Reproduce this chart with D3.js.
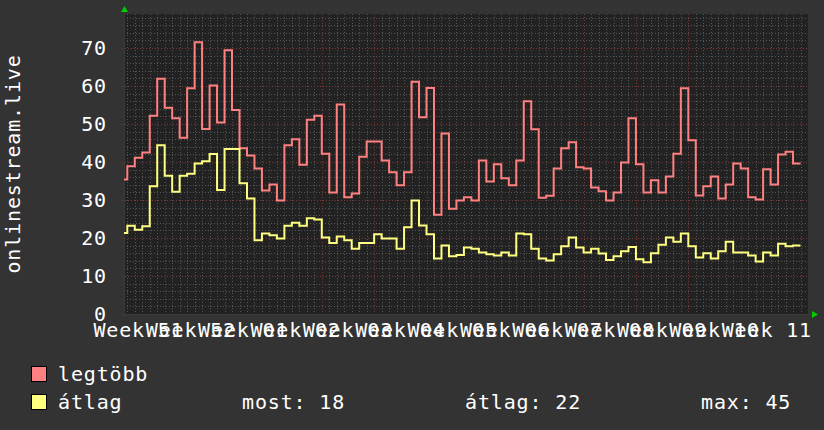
<!DOCTYPE html>
<html lang="hu">
<head>
  <meta charset="UTF-8">
  <title>onlinestream.live</title>
  <script src="https://d3js.org/d3.v7.min.js"></script>
  <style>
    body { margin: 0; background: #333; }
    text {
      font-family: "DejaVu Sans Mono", monospace;
      font-size: 20px;
      letter-spacing: 0.85px;
      fill: #fff;
    }
  </style>
</head>
<body>
  <svg width="824" height="430"></svg>

  <script>
    // daily values, first day is 2012-12-18
    var startDay = new Date(2012, 11, 18);

    var maxValues = [
      35.4, 38.9, 41.1, 42.5, 52.2, 61.9, 54.3, 51.5, 46.4, 59.4,
      71.5, 48.7, 60.1, 50.4, 69.4, 53.7, 43.6, 41.7, 38.3, 32.5,
      34.1, 29.9, 44.4, 46.0, 39.3, 51.1, 52.2, 42.2, 32.0, 55.1,
      30.7, 31.7, 41.4, 45.4, 45.4, 40.4, 37.3, 33.9, 37.3, 61.1,
      51.8, 59.5, 26.1, 47.5, 27.7, 29.9, 30.7, 29.9, 40.4, 34.9,
      39.4, 35.7, 33.9, 40.4, 56.0, 48.6, 30.6, 31.1, 38.3, 43.6,
      45.2, 38.6, 38.3, 33.3, 32.3, 29.9, 32.0, 39.9, 51.5, 39.4,
      32.0, 35.2, 32.0, 36.2, 42.2, 59.4, 45.7, 31.2, 33.6, 36.2,
      30.4, 34.1, 39.6, 38.3, 30.7, 30.1, 38.1, 34.1, 42.0, 42.7,
      39.6
    ];

    var avgValues = [
      21.3, 23.2, 22.2, 23.1, 33.6, 44.4, 36.4, 32.2, 36.4, 36.9,
      39.6, 40.2, 42.1, 32.6, 43.4, 43.4, 34.4, 30.4, 19.4, 21.2,
      20.7, 19.9, 23.2, 24.0, 23.2, 25.2, 24.9, 20.1, 18.7, 20.4,
      19.4, 17.2, 18.7, 18.7, 21.0, 19.9, 19.9, 17.2, 22.8, 29.9,
      23.3, 21.0, 14.6, 18.0, 15.2, 15.5, 17.5, 17.2, 16.2, 15.7,
      15.4, 16.2, 15.4, 21.2, 21.0, 17.2, 14.6, 14.1, 15.7, 17.8,
      20.1, 17.5, 16.2, 17.2, 15.9, 14.2, 15.2, 16.5, 17.6, 14.4,
      13.6, 16.0, 18.2, 20.1, 19.0, 21.2, 17.8, 14.9, 16.0, 14.6,
      16.5, 19.0, 16.2, 16.2, 15.4, 13.8, 16.2, 15.4, 18.5, 17.8,
      18.0
    ];

    var yTicks = [0, 10, 20, 30, 40, 50, 60, 70];
    var seriesNames = ["legtöbb", "átlag"];
    var seriesColors = ["#ff8080", "#ffff80"];
    var legendStats = [["most", 18], ["átlag", 22], ["max", 45]];
    var axisTitle = "onlinestream.live";

    var svg = d3.select("svg");
    var pLeft = 124, pRight = 808, pTop = 14, pBottom = 314;

    svg.append("rect").attr("width", 824).attr("height", 430).attr("fill", "#333");

    var x = d3.scaleTime()
        .domain([new Date(2012, 11, 18, 13, 25), new Date(2013, 2, 20)])
        .range([pLeft, pRight]);
    var y = d3.scaleLinear()
        .domain([0, 300 / 3.8])
        .range([pBottom, pTop]);

    svg.append("rect")
        .attr("x", pLeft).attr("y", pTop)
        .attr("width", pRight - pLeft).attr("height", pBottom - pTop)
        .attr("fill", "#222");

    svg.append("clipPath").attr("id", "plot")
      .append("rect")
        .attr("x", pLeft).attr("y", pTop - 2)
        .attr("width", pRight - pLeft).attr("height", pBottom - pTop + 2);

    // grid
    var grid = svg.append("g").attr("shape-rendering", "crispEdges");
    var days = d3.timeDay.range(x.domain()[0], x.domain()[1]);
    var weeks = d3.timeMonday.range(x.domain()[0], x.domain()[1]);
    var minorColor = "#555555", majorColor = "#7e3636";

    grid.selectAll(".vminor")
      .data(days.filter(function(d) { return d.getDay() !== 1; }))
      .enter().append("line")
        .attr("x1", function(d) { return Math.round(x(d)) + 0.5; })
        .attr("x2", function(d) { return Math.round(x(d)) + 0.5; })
        .attr("y1", pTop).attr("y2", pBottom)
        .attr("stroke", minorColor)
        .attr("stroke-dasharray", "1,2");

    var minorY = d3.range(2, 79, 2).filter(function(v) { return v % 10 !== 0; });
    grid.selectAll(".hminor")
      .data(minorY)
      .enter().append("line")
        .attr("x1", pLeft).attr("x2", pRight)
        .attr("y1", function(d) { return Math.round(y(d)) + 0.5; })
        .attr("y2", function(d) { return Math.round(y(d)) + 0.5; })
        .attr("stroke", minorColor)
        .attr("stroke-dasharray", "1,2");

    grid.selectAll(".vmajor")
      .data(weeks)
      .enter().append("line")
        .attr("x1", function(d) { return Math.round(x(d)) + 0.5; })
        .attr("x2", function(d) { return Math.round(x(d)) + 0.5; })
        .attr("y1", pTop).attr("y2", pBottom + 3)
        .attr("stroke", majorColor)
        .attr("stroke-dasharray", "1,2");

    grid.selectAll(".hmajor")
      .data(yTicks.slice(1))
      .enter().append("line")
        .attr("x1", pLeft - 2).attr("x2", pRight)
        .attr("y1", function(d) { return Math.round(y(d)) + 0.5; })
        .attr("y2", function(d) { return Math.round(y(d)) + 0.5; })
        .attr("stroke", majorColor)
        .attr("stroke-dasharray", "1,2");

    // axes lines + arrows
    svg.append("line")
        .attr("x1", pLeft - 3).attr("x2", pRight + 4)
        .attr("y1", pBottom + 0.5).attr("y2", pBottom + 0.5)
        .attr("stroke", "#3a3a3a");
    svg.append("line")
        .attr("x1", pLeft + 0.5).attr("x2", pLeft + 0.5)
        .attr("y1", pTop - 4).attr("y2", pBottom + 3)
        .attr("stroke", "#3a3a3a");
    svg.append("path")
        .attr("d", "M" + (pLeft - 3) + "," + (pTop - 2) + "L" + (pLeft + 4) + "," + (pTop - 2) + "L" + (pLeft + 0.5) + "," + (pTop - 8) + "Z")
        .attr("fill", "#00cc00");
    svg.append("path")
        .attr("d", "M" + (pRight + 4) + "," + (pBottom - 3) + "L" + (pRight + 4) + "," + (pBottom + 4) + "L" + (pRight + 10) + "," + (pBottom + 0.5) + "Z")
        .attr("fill", "#00cc00");

    // y labels
    svg.selectAll(".ylab")
      .data(yTicks)
      .enter().append("text")
        .attr("x", 107)
        .attr("y", function(d) { return y(d) + 7; })
        .attr("text-anchor", "end")
        .text(function(d) { return d; });

    // x labels, centred on the middle of each week
    var fmt = d3.timeFormat("Week %V");
    var labelWeeks = d3.timeMonday.range(new Date(2012, 11, 17), new Date(2013, 2, 12));
    svg.selectAll(".xlab")
      .data(labelWeeks)
      .enter().append("text")
        .attr("x", function(d) { return x(d3.timeHour.offset(d, 84)); })
        .attr("y", 337)
        .attr("text-anchor", "middle")
        .text(function(d) { return fmt(d); });

    svg.append("text")
        .attr("transform", "translate(20,164) rotate(-90)")
        .attr("text-anchor", "middle")
        .text(axisTitle);

    // step lines
    function points(values) {
      var pts = values.map(function(v, i) {
        return { date: d3.timeDay.offset(startDay, i), value: v };
      });
      pts.push({ date: d3.timeDay.offset(startDay, values.length), value: values[values.length - 1] });
      return pts;
    }

    var line = d3.line()
        .x(function(d) { return x(d.date); })
        .y(function(d) { return y(d.value); })
        .curve(d3.curveStepAfter);

    var plot = svg.append("g").attr("clip-path", "url(#plot)");
    [maxValues, avgValues].forEach(function(vals, i) {
      plot.append("path")
          .attr("d", line(points(vals)))
          .attr("fill", "none")
          .attr("stroke", seriesColors[i])
          .attr("stroke-width", 2);
    });

    // legend
    seriesNames.forEach(function(name, i) {
      var ly = 366 + i * 28;
      svg.append("rect")
          .attr("x", 31.5).attr("y", ly + 0.5)
          .attr("width", 15).attr("height", 15)
          .attr("fill", seriesColors[i])
          .attr("stroke", "#000");
      svg.append("text")
          .attr("x", 58).attr("y", ly + 15)
          .text(name);
    });

    var statX = [242, 465, 701];
    legendStats.forEach(function(s, i) {
      svg.append("text")
          .attr("x", statX[i]).attr("y", 409)
          .text(s[0] + ": " + s[1]);
    });
  </script>
</body>
</html>
